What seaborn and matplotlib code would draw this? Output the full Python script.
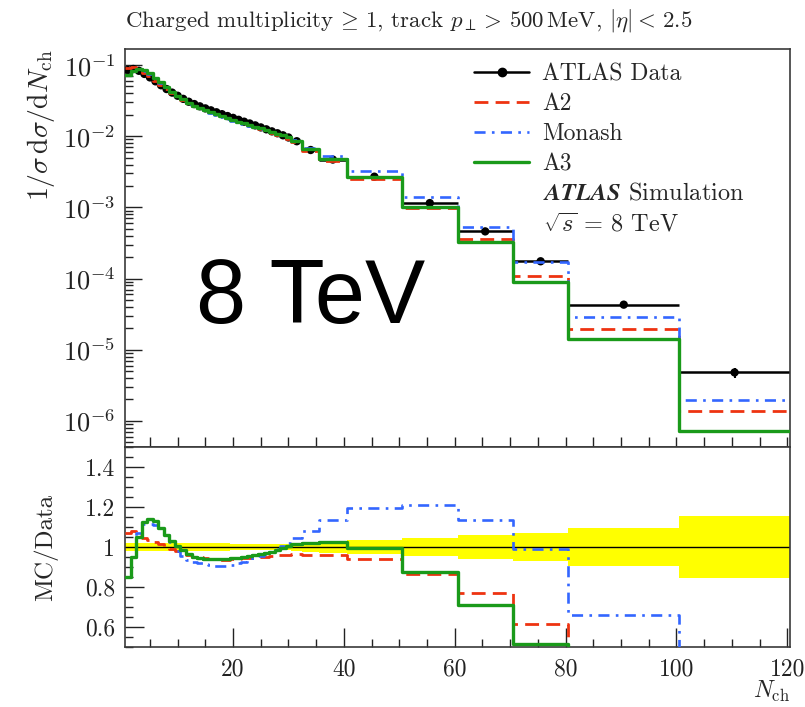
import numpy as np
import pandas as pd
import matplotlib
matplotlib.use("Agg")
import matplotlib.pyplot as plt
import seaborn as sns
from matplotlib.lines import Line2D
from matplotlib.ticker import LogLocator, MultipleLocator, FixedLocator, FuncFormatter, NullFormatter

# ---- data -----------------------------------------------------------------
bin_edges = ([0.5 + i for i in range(31)]            # unit bins 1..30
             + [32.5, 35.5, 40.5, 50.5, 60.5, 70.5, 80.5, 100.5, 120.5])

data_vals = [0.085, 0.088, 0.083, 0.075, 0.067, 0.059, 0.052, 0.046, 0.041, 0.037,
             0.0335, 0.0305, 0.0283, 0.0263, 0.0246, 0.0231, 0.0217, 0.0204, 0.0192, 0.0181,
             0.0170, 0.0160, 0.0151, 0.0142, 0.0133, 0.0125, 0.0117, 0.0110, 0.0103, 0.0096,
             0.0085, 0.0064, 0.0047, 0.0027, 0.00115, 4.6e-4, 1.75e-4, 4.3e-5, 4.8e-6]

data_rel_err = ([0.022] * 19 + [0.014] * 11
                + [0.02, 0.025, 0.028, 0.034, 0.043, 0.058, 0.071, 0.093, 0.155])

a2_ratio = [1.07, 1.08, 1.06, 1.045, 1.035, 1.027, 1.015, 1.0, 0.99, 0.98,
            0.97, 0.96, 0.952, 0.948, 0.944, 0.94, 0.937, 0.936, 0.937, 0.938,
            0.94, 0.943, 0.946, 0.948, 0.95, 0.952, 0.955, 0.958, 0.96, 0.962,
            0.965, 0.962, 0.96, 0.94, 0.865, 0.77, 0.615, 0.45, 0.29]

monash_ratio = [0.85, 0.95, 1.07, 1.117, 1.117, 1.11, 1.09, 1.06, 1.025, 0.98,
                0.955, 0.935, 0.925, 0.918, 0.914, 0.91, 0.906, 0.905, 0.906, 0.91,
                0.918, 0.926, 0.935, 0.945, 0.955, 0.965, 0.975, 0.99, 1.005, 1.02,
                1.045, 1.08, 1.135, 1.195, 1.21, 1.135, 0.99, 0.66, 0.41]

a3_ratio = [0.85, 0.95, 1.05, 1.127, 1.14, 1.13, 1.095, 1.06, 1.03, 1.005,
            0.985, 0.965, 0.95, 0.945, 0.94, 0.938, 0.938, 0.938, 0.94, 0.943,
            0.946, 0.95, 0.955, 0.96, 0.966, 0.97, 0.976, 0.985, 0.995, 1.005,
            1.013, 1.018, 1.024, 0.995, 0.875, 0.71, 0.515, 0.33, 0.15]

x_ticks = [20, 40, 60, 80, 100, 120]
ratio_ticks = [0.6, 0.8, 1.0, 1.2, 1.4]

# ---- style ----------------------------------------------------------------
sns.set_theme(style="ticks")
plt.rcParams.update({
    "font.family": ["cmr10", "DejaVu Serif"],
    "mathtext.fontset": "cm",
    "axes.formatter.use_mathtext": True,
    "axes.unicode_minus": False,
    "axes.edgecolor": "#3a3a3a",
    "axes.linewidth": 1.2,
    "xtick.color": "#222222",
    "ytick.color": "#222222",
})

edges = np.array(bin_edges)
centers = 0.5 * (edges[:-1] + edges[1:])
data = np.array(data_vals)
rel = np.array(data_rel_err)

models = [
    ("A2", np.array(a2_ratio), "#ee3311", (5.0, 2.6), 2.0),
    ("Monash", np.array(monash_ratio), "#3366ff", (4.2, 2.4, 1.0, 2.4), 1.9),
    ("A3", np.array(a3_ratio), "#1a9a1a", "", 2.4),
]


def step_frame(values, name):
    return pd.DataFrame({"x": edges, "y": np.append(values, values[-1]), "model": name})


fig = plt.figure(figsize=(8.05, 7.07), dpi=100)
W, H = 805.0, 707.0
ax_l, ax_r = 125 / W, 790 / W
ax_top = fig.add_axes([ax_l, 1 - 447 / H, ax_r - ax_l, 398 / H])
ax_rat = fig.add_axes([ax_l, 1 - 647 / H, ax_r - ax_l, 200 / H], sharex=ax_top)

# ---- main panel -----------------------------------------------------------
ax_top.set_yscale("log")
ax_top.hlines(data, edges[:-1], edges[1:], color="black", lw=1.8, zorder=2)
ax_top.vlines(centers, data * (1 - rel), data * (1 + rel), color="black", lw=1.5, zorder=2)
sns.scatterplot(x=centers, y=data, ax=ax_top, color="black", s=36, edgecolor="none",
                zorder=3, legend=False)

for z, (name, ratio, col, dash, lw) in enumerate(models):
    df = step_frame(ratio * data, name)
    sns.lineplot(data=df, x="x", y="y", ax=ax_top, color=col, lw=lw,
                 dashes=dash if dash else (None, None), drawstyle="steps-post",
                 estimator=None, sort=False, legend=False, zorder=4 + z)

ax_top.set_xlim(0.5, 120.5)
ax_top.set_ylim(4.3e-7, 0.168)
ax_top.yaxis.set_major_locator(LogLocator(base=10, numticks=20))
ax_top.yaxis.set_minor_locator(LogLocator(base=10, subs=np.arange(2, 10), numticks=20))
ax_top.yaxis.set_minor_formatter(NullFormatter())
ax_top.xaxis.set_major_locator(FixedLocator(x_ticks))
ax_top.xaxis.set_minor_locator(MultipleLocator(5))
ax_top.tick_params(axis="x", which="both", direction="in", labelbottom=False,
                   length=7, width=1.0, top=False)
ax_top.tick_params(axis="y", which="major", direction="in", length=12, width=1.0,
                   labelsize=19, right=False, pad=7)
ax_top.tick_params(axis="y", which="minor", direction="in", length=6, width=1.0, right=False)
ax_top.set_xlabel("")
ax_top.set_ylabel(r"$1/\sigma\,\mathrm{d}\sigma/\mathrm{d}N_{\mathrm{ch}}$", fontsize=20, loc="top")
ax_top.yaxis.set_label_coords(-0.102, 1.0)

# legend
handles = [
    Line2D([], [], color="black", lw=1.8, marker="o", markersize=6),
]
for name, ratio, col, dash, lw in models:
    h = Line2D([], [], color=col, lw=lw)
    if dash:
        h.set_dashes(dash)
    handles.append(h)
labels = ["ATLAS Data"] + [m[0] for m in models]
fig.legend(handles, labels, loc="upper left", bbox_to_anchor=(474 / W, 1 - 63 / H),
           bbox_transform=fig.transFigure, frameon=False, fontsize=17,
           handlelength=2.35, handletextpad=0.55, labelspacing=0.335,
           borderpad=0, borderaxespad=0)
fig.text(543 / W, 1 - 193 / H, r"$\mathbfit{ATLAS}$ Simulation", fontsize=17.5, va="center", ha="left")
fig.text(543 / W, 1 - 225 / H, r"$\sqrt{s}$ = 8 TeV", fontsize=17.5, va="center", ha="left")

fig.text(196 / W, 1 - 323 / H, "8 TeV", fontsize=65, family="Liberation Sans",
         ha="left", va="baseline", color="black")

fig.text(125 / W, 1 - 20 / H,
         r"Charged $\mathrm{multiplicity}\,\geq\,1$, track $p_{\perp} >\,500\,\mathrm{MeV}$, "
         r"$|\eta| <\,2.5$",
         fontsize=16.5, ha="left", va="center")

# ---- ratio panel ----------------------------------------------------------
lo = np.append(1 - rel, 1 - rel[-1])
hi = np.append(1 + rel, 1 + rel[-1])
ax_rat.fill_between(edges, lo, hi, step="post", color="#ffff00", lw=0, zorder=1)
ax_rat.axhline(1.0, color="black", lw=1.0, zorder=2)
for z, (name, ratio, col, dash, lw) in enumerate(models):
    df = step_frame(ratio, name)
    sns.lineplot(data=df, x="x", y="y", ax=ax_rat, color=col, lw=lw,
                 dashes=dash if dash else (None, None), drawstyle="steps-post",
                 estimator=None, sort=False, legend=False, zorder=3 + z)

ax_rat.set_ylim(0.5, 1.5)
ax_rat.set_xlim(0.5, 120.5)
ax_rat.yaxis.set_major_locator(FixedLocator(ratio_ticks))
ax_rat.yaxis.set_minor_locator(MultipleLocator(0.05))
ax_rat.yaxis.set_major_formatter(FuncFormatter(lambda v, p: f"{v:g}"))
ax_rat.xaxis.set_major_locator(FixedLocator(x_ticks))
ax_rat.xaxis.set_minor_locator(MultipleLocator(5))
ax_rat.xaxis.set_major_formatter(FuncFormatter(lambda v, p: f"{v:g}"))
ax_rat.tick_params(axis="both", which="major", direction="in", length=14, width=1.0,
                   labelsize=17, top=False, right=False)
ax_rat.tick_params(axis="x", which="major", pad=8)
ax_rat.tick_params(axis="y", which="major", pad=7)
ax_rat.tick_params(axis="both", which="minor", direction="in", length=6, width=1.0,
                   top=False, right=False)
ax_rat.set_ylabel("MC/Data", fontsize=18)
ax_rat.yaxis.set_label_coords(-0.10, 0.5)
ax_rat.set_xlabel(r"$N_{\mathrm{ch}}$", fontsize=17, loc="right", labelpad=-1)

fig.savefig("out.png", dpi=100)
